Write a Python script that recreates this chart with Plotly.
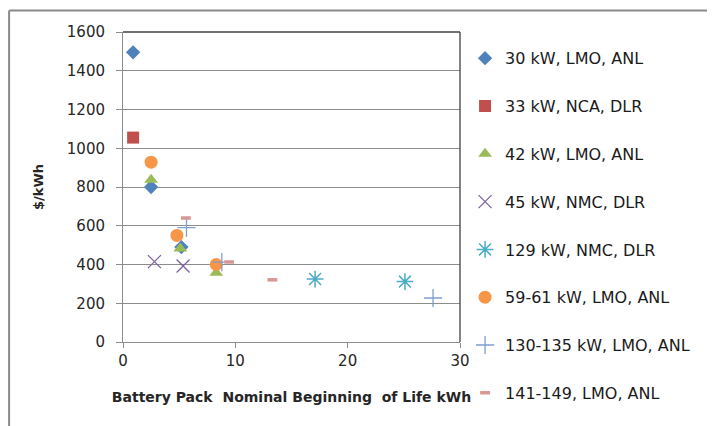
import plotly.graph_objects as go

names = ["30 kW, LMO, ANL", "33 kW, NCA, DLR", "42 kW, LMO, ANL", "45 kW, NMC, DLR",
         "129 kW, NMC, DLR", "59-61 kW, LMO, ANL", "130-135 kW, LMO, ANL", "141-149, LMO, ANL"]

x_30kw = [0.9, 2.5, 5.2]
y_30kw = [1495, 800, 490]
x_33kw = [0.9]
y_33kw = [1055]
x_42kw = [2.5, 5.1, 8.3]
y_42kw = [838, 482, 357]
x_45kw = [2.8, 5.35]
y_45kw = [415, 392]
x_129kw = [17.1, 25.1]
y_129kw = [325, 312]
x_59kw = [2.5, 4.8, 8.3]
y_59kw = [928, 550, 400]
x_130kw = [5.65, 8.8, 27.6]
y_130kw = [590, 412, 227]
x_141kw = [5.6, 9.45, 13.3]
y_141kw = [640, 413, 321]

xs = [x_30kw, x_33kw, x_42kw, x_45kw, x_129kw, x_59kw, x_130kw, x_141kw]
ys = [y_30kw, y_33kw, y_42kw, y_45kw, y_129kw, y_59kw, y_130kw, y_141kw]

x_ticks = [0, 10, 20, 30]
y_ticks = [0, 200, 400, 600, 800, 1000, 1200, 1400, 1600]

styles = [
    dict(symbol="diamond", color="#4F81BD", size=11),
    dict(symbol="square", color="#C0504D", size=12),
    dict(symbol="triangle-up", color="#9BBB59", size=12),
    dict(symbol="x-thin-open", color="#8064A2", size=13, line=dict(width=1.3, color="#8064A2")),
    dict(symbol="asterisk-open", color="#4BACC6", size=14, line=dict(width=1.5, color="#4BACC6")),
    dict(symbol="circle", color="#F79646", size=13),
    dict(symbol="cross-thin-open", color="#7F9FD0", size=13, line=dict(width=1.3, color="#7F9FD0")),
    dict(symbol="line-ew-open", color="#D99694", size=7, line=dict(width=3.5, color="#D99694")),
]

fig = go.Figure()
for i, (n, xv, yv, st) in enumerate(zip(names, xs, ys, styles)):
    fig.add_trace(go.Scatter(
        x=xv, y=yv, mode="markers", name=n, legendgroup=f"g{i}",
        marker=dict(symbol=st["symbol"], color=st["color"], size=st["size"],
                    line=st.get("line", dict(width=0))),
    ))

font_family = "DejaVu Sans"
fig.update_layout(
    width=707, height=418,
    margin=dict(l=115, r=255, t=24, b=84),
    paper_bgcolor="white", plot_bgcolor="white",
    font=dict(family=font_family, size=13, color="#262626"),
    showlegend=True,
    legend=dict(x=1.015, y=0.97, xanchor="left", yanchor="top",
                tracegroupgap=24, itemwidth=30, maxheight=410,
                font=dict(family=font_family, size=16, color="#1a1a1a"),
                bgcolor="rgba(0,0,0,0)"),
    xaxis=dict(range=[0, 30], tickvals=x_ticks, showgrid=False,
               showline=True, linecolor="#8c8c8c", linewidth=1,
               ticks="outside", ticklen=5, tickcolor="#8c8c8c",
               tickfont=dict(size=15), zeroline=False,
               title=dict(text="<b>Battery Pack  Nominal Beginning  of Life kWh</b>",
                          font=dict(size=14), standoff=23)),
    yaxis=dict(range=[0, 1600], tickvals=y_ticks, showgrid=True,
               gridcolor="#8c8c8c", gridwidth=1,
               showline=True, linecolor="#8c8c8c", linewidth=1,
               ticks="outside", ticklen=6, tickcolor="#8c8c8c",
               tickfont=dict(size=15), ticklabelstandoff=8, zeroline=False,
               title=dict(text="<b>$/kWh</b>", font=dict(size=13), standoff=20)),
    shapes=[
        dict(type="line", xref="paper", yref="paper", x0=0, x1=1, y0=1, y1=1,
             line=dict(color="#404040", width=1.3)),
        dict(type="line", xref="paper", yref="paper", x0=1, x1=1, y0=0, y1=1,
             line=dict(color="#404040", width=1.3)),
        dict(type="line", xref="paper", yref="paper", x0=-0.338, x1=1.8, y0=1.069, y1=1.069,
             line=dict(color="#8a8a8a", width=2)),
        dict(type="line", xref="paper", yref="paper", x0=-0.338, x1=-0.338, y0=1.069, y1=-0.4,
             line=dict(color="#8a8a8a", width=2)),
    ],
)

fig.write_html("out.html")
